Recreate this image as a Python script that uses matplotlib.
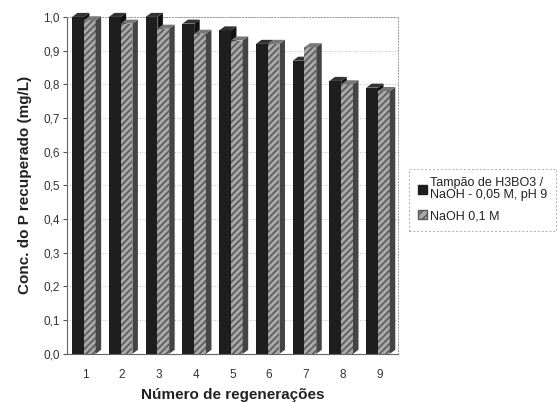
import matplotlib
matplotlib.use("Agg")
import matplotlib.pyplot as plt
import numpy as np
from matplotlib.patches import Patch

categories = ["1", "2", "3", "4", "5", "6", "7", "8", "9"]
tampao = [1.00, 1.00, 1.00, 0.98, 0.96, 0.92, 0.87, 0.81, 0.79]
naoh = [0.99, 0.98, 0.965, 0.95, 0.93, 0.92, 0.91, 0.80, 0.78]
yticks = [0.0, 0.1, 0.2, 0.3, 0.4, 0.5, 0.6, 0.7, 0.8, 0.9, 1.0]
ytick_labels = ["0,0", "0,1", "0,2", "0,3", "0,4", "0,5", "0,6", "0,7", "0,8", "0,9", "1,0"]
series_names = ["Tampão de H3BO3 /\nNaOH - 0,05 M, pH 9", "NaOH 0,1 M"]

plt.rcParams['font.family'] = ['Liberation Sans', 'DejaVu Sans']
plt.rcParams['hatch.linewidth'] = 1.2

fig = plt.figure(figsize=(5.58, 4.03), dpi=100)
ax = fig.add_axes([0.120, 0.122, 0.593, 0.836])

x = np.arange(1, len(categories) + 1)
w = 0.32
dx, dy = 0.15, 0.012
dark = "#1e1e1e"
grey = "#a8a8a8"
hatch_c = "#5a5a5a"

ax.set_xlim(0.5, 9.5)
ax.set_ylim(0, 1.0)

for v in yticks[1:]:
    ax.axhline(v, color="#aaaaaa", lw=0.6, ls=(0, (1, 2)), zorder=0)

def draw3d(xl, v, face, side, top, hatch=None):
    ax.bar(xl, v, width=w, align="edge", color=face, edgecolor=hatch_c if hatch else face,
           hatch=hatch, lw=0, zorder=3, clip_on=False)
    xs = [xl + w, xl + w + dx, xl + w + dx, xl + w]
    ys = [0, dy, v + dy, v]
    ax.fill(xs, ys, color=side, zorder=3, clip_on=False, lw=0)
    xt = [xl, xl + dx, xl + w + dx, xl + w]
    yt = [v, v + dy, v + dy, v]
    ax.fill(xt, yt, color=top, zorder=3, clip_on=False, lw=0)

for xi, a, b in zip(x, tampao, naoh):
    draw3d(xi - 0.36, a, dark, "#111111", "#333333")
    draw3d(xi - 0.04, b, grey, "#444444", "#777777", hatch="/////")

ax.set_yticks(yticks)
ax.set_yticklabels(ytick_labels, fontsize=8.5, color="#333333")
ax.set_xticks(x)
ax.set_xticklabels(categories, fontsize=8.5, color="#333333")
ax.tick_params(axis="y", direction="out", length=3, color="#555555", pad=2)
ax.tick_params(axis="x", length=0, pad=11)

for s in ["top", "right"]:
    ax.spines[s].set_linestyle((0, (1, 2)))
    ax.spines[s].set_color("#999999")
    ax.spines[s].set_linewidth(0.7)
ax.spines["left"].set_color("#666666")
ax.spines["bottom"].set_color("#666666")

ax.set_ylabel("Conc. do P recuperado (mg/L)", fontsize=11, fontweight="bold", color="#222222", labelpad=8)
ax.set_xlabel("Número de regenerações", fontsize=11, fontweight="bold", color="#222222", labelpad=5)

handles = [Patch(facecolor=dark, edgecolor=dark),
           Patch(facecolor=grey, edgecolor=hatch_c, hatch="////")]
leg = fig.legend(handles, series_names, loc="upper left", bbox_to_anchor=(0.722, 0.597),
                 fontsize=9, frameon=True, handlelength=0.7, handleheight=0.7, handletextpad=0.3,
                 borderpad=0.7, labelspacing=0.7, fancybox=False)
for t in leg.get_texts():
    t.set_linespacing(1.0)
    t.set_color("#222222")
leg.get_frame().set_edgecolor("#999999")
leg.get_frame().set_linestyle((0, (2, 2)))
leg.get_frame().set_linewidth(0.7)

fig.savefig("out.png", dpi=100)
